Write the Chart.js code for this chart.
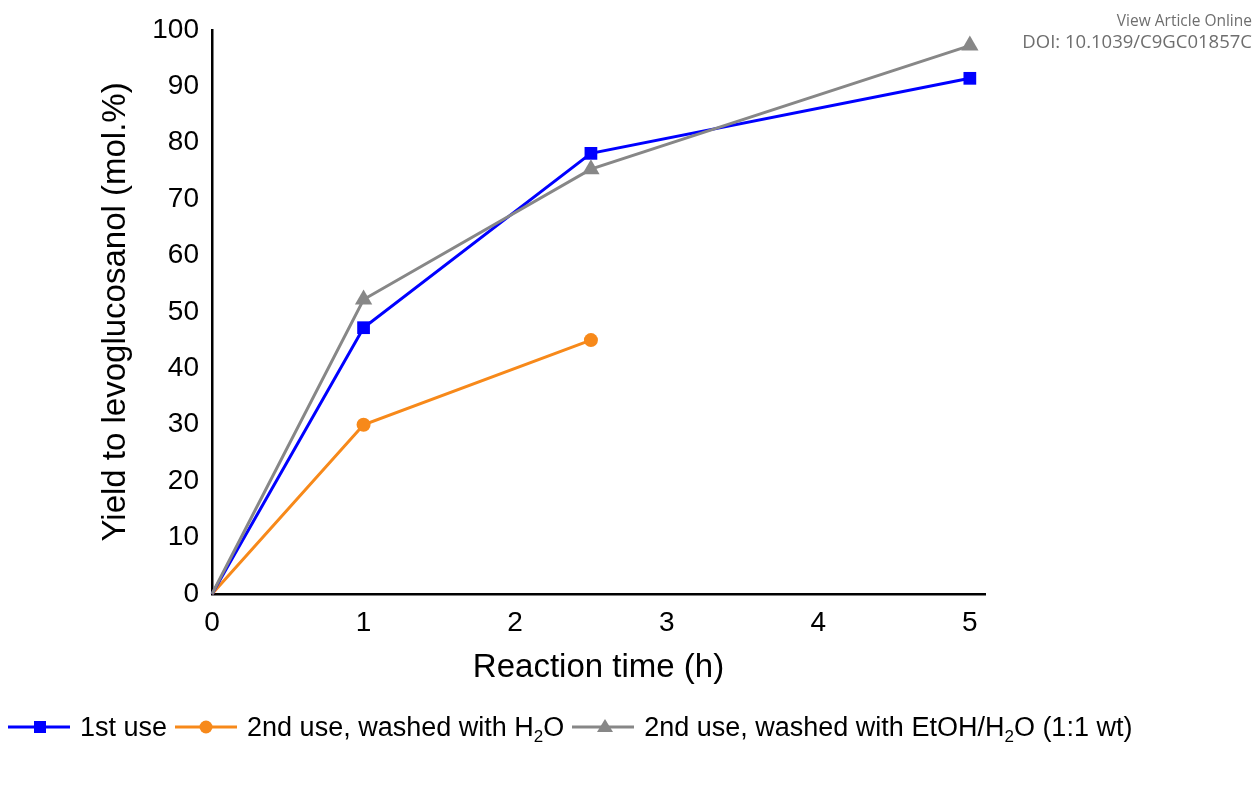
<!DOCTYPE html>
<html>
<head>
<meta charset="utf-8">
<script src="https://cdn.jsdelivr.net/npm/chart.js@4/dist/chart.umd.min.js"></script>
<style>
  html, body { margin: 0; padding: 0; background: #ffffff; }
  #wrap { position: relative; width: 1257px; height: 789px; }
  #c { position: absolute; left: 0; top: 0; }
  .note { position: absolute; right: 5px; font-family: "Open Sans", "Noto Sans", sans-serif; color: #6e6e6e; white-space: nowrap; }
  #legend { position: absolute; left: 8px; top: 707px; height: 40px; display: flex; align-items: center;
            font-family: "Liberation Sans", Arial, sans-serif; font-size: 27px; color: #000; white-space: nowrap; }
  .item { display: flex; align-items: center; margin-right: 8px; }
  .item svg { margin-right: 10px; }
  sub { font-size: 17px; vertical-align: -6px; line-height: 0; }
</style>
</head>
<body>
<div id="wrap">
  <canvas id="c" width="1257" height="789"></canvas>
  <div class="note" style="top:9px;font-size:15.5px;">View Article Online</div>
  <div class="note" style="top:28px;font-size:18.5px;">DOI: 10.1039/C9GC01857C</div>
  <div id="legend"></div>
</div>
<script>
// ---- data ----
const xTitle = "Reaction time (h)";
const yTitle = "Yield to levoglucosanol (mol.%)";
const xTicks = [0, 1, 2, 3, 4, 5];
const yTicks = [0, 10, 20, 30, 40, 50, 60, 70, 80, 90, 100];

const seriesNames = ["1st use", "2nd use, washed with H2O", "2nd use, washed with EtOH/H2O (1:1 wt)"];

const time1 = [0, 1, 2.5, 5];
const yield1 = [0, 47.2, 78.1, 91.4];

const time2 = [0, 1, 2.5];
const yield2 = [0, 30.0, 45.0];

const time3 = [0, 1, 2.5, 5];
const yield3 = [0, 52.2, 75.3, 97.2];

const colors = ["#0000ff", "#f7891a", "#878787"];
const styles = ["rect", "circle", "triangle"];

function pts(xs, ys) { return xs.map((x, i) => ({ x: x, y: ys[i] })); }
function radii(n, r) { return Array.from({ length: n }, (_, i) => i === 0 ? 0 : r); }

const datasets = [
  { label: seriesNames[0], data: pts(time1, yield1), borderColor: colors[0], backgroundColor: colors[0],
    pointStyle: styles[0], pointRadius: radii(time1.length, 9), order: 2 },
  { label: seriesNames[1], data: pts(time2, yield2), borderColor: colors[1], backgroundColor: colors[1],
    pointStyle: styles[1], pointRadius: radii(time2.length, 7), order: 3 },
  { label: seriesNames[2], data: pts(time3, yield3), borderColor: colors[2], backgroundColor: colors[2],
    pointStyle: styles[2], pointRadius: radii(time3.length, 10), order: 1 }
].map(d => Object.assign(d, { borderWidth: 3, pointBorderWidth: 0, tension: 0, clip: false, pointHoverRadius: 0 }));

const tickFont = { family: "'Liberation Sans', Arial, sans-serif", size: 28 };
const titleFont = { family: "'Liberation Sans', Arial, sans-serif", size: 33 };

new Chart(document.getElementById('c'), {
  type: 'line',
  data: { datasets: datasets },
  options: {
    responsive: false,
    animation: false,
    events: [],
    layout: { padding: { left: 0, top: 27, right: 272, bottom: 85 } },
    plugins: { legend: { display: false }, tooltip: { enabled: false } },
    scales: {
      x: {
        type: 'linear', min: 0, max: 5.1,
        grid: { display: false, drawTicks: false },
        border: { display: true, color: '#000', width: 2.5 },
        ticks: { stepSize: 1, color: '#000', font: tickFont, padding: 12, maxRotation: 0 },
        afterBuildTicks: s => { s.ticks = xTicks.map(v => ({ value: v })); },
        title: { display: true, text: xTitle, color: '#000', font: titleFont, padding: { top: 0, bottom: 16 } },
        afterFit: s => { s.height = 110; }
      },
      y: {
        type: 'linear', min: 0, max: 100,
        grid: { display: false, drawTicks: false },
        border: { display: true, color: '#000', width: 2.5 },
        ticks: { stepSize: 10, color: '#000', font: tickFont, padding: 13 },
        afterBuildTicks: s => { s.ticks = yTicks.map(v => ({ value: v })); },
        title: { display: true, text: yTitle, color: '#000', font: titleFont, padding: { top: 96, bottom: 0 } },
        afterFit: s => { s.width = 212; }
      }
    }
  }
});

// ---- HTML legend (for the subscript) ----
function markerSvg(i) {
  const c = colors[i];
  let m = '';
  if (styles[i] === 'rect') m = `<rect x="26" y="6" width="12" height="12" fill="${c}"/>`;
  else if (styles[i] === 'circle') m = `<circle cx="31" cy="12" r="6.5" fill="${c}"/>`;
  else m = `<polygon points="33,4 41,17 25,17" fill="${c}"/>`;
  return `<svg width="62" height="24" viewBox="0 0 62 24"><line x1="0" y1="12" x2="62" y2="12" stroke="${c}" stroke-width="3"/>${m}</svg>`;
}
const legend = document.getElementById('legend');
legend.innerHTML = seriesNames.map((n, i) =>
  `<div class="item">${markerSvg(i)}<span>${n.replace(/H2O/g, 'H<sub>2</sub>O')}</span></div>`).join('');
</script>
</body>
</html>
